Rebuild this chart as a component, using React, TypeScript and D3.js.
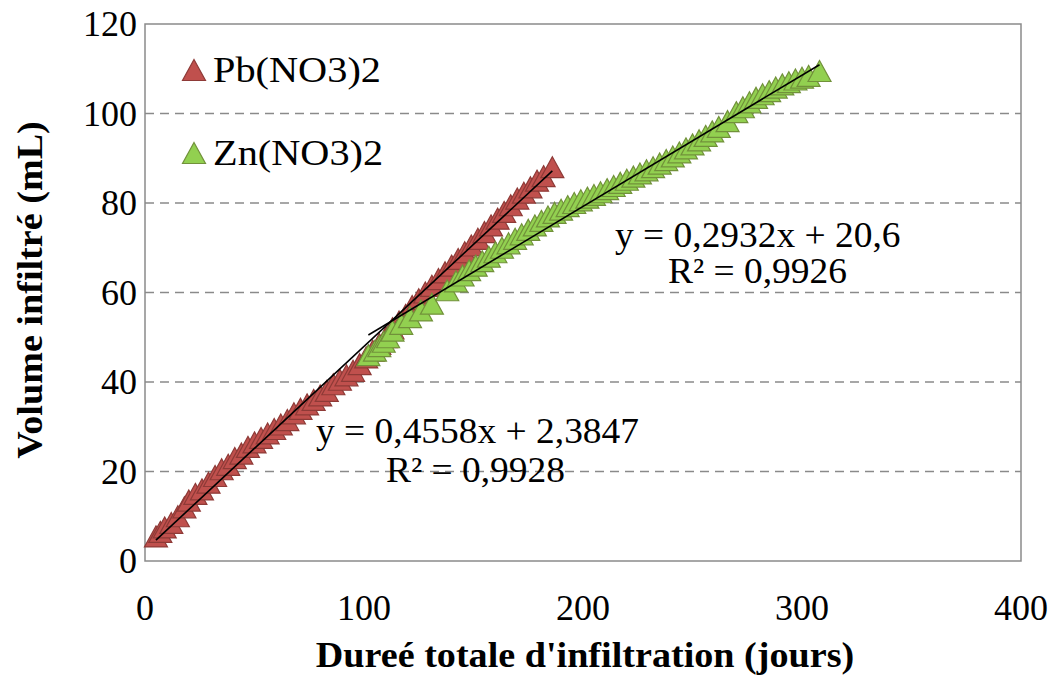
import React from "react";
import * as d3 from "d3";

const xTicks = [0, 100, 200, 300, 400];
const yTicks = [0, 20, 40, 60, 80, 100, 120];

const pbX = [5, 7, 9, 12, 15, 18, 20, 23, 26, 29, 32, 35, 38, 41, 44, 47, 50, 53, 56, 59, 62, 65, 68, 71, 74, 77, 80, 83, 86, 89, 92, 95, 98, 101, 104, 107, 110, 113, 116, 119, 122, 125, 128, 131, 134, 137, 140, 143, 146, 149, 152, 155, 158, 161, 164, 167, 170, 173, 176, 179, 182, 186];
const pbY = [5.5, 6.5, 7.5, 8.5, 10, 12, 13.5, 15, 16, 17.5, 19, 20.5, 21.5, 23, 24, 25.5, 26.5, 27.5, 28.5, 29.5, 30.5, 31.5, 33, 34, 35, 36, 37, 38, 39.5, 40.5, 41.5, 42.5, 44, 45.5, 47, 48.5, 50, 52, 53.5, 55, 57, 58.5, 60, 61.5, 63, 64.5, 66, 67.5, 69, 70.5, 72, 73.5, 75, 76.5, 78, 79.5, 81, 82.3, 83.5, 85, 86, 88];

const znX = [102, 105, 107, 109, 111, 113, 117, 121, 126, 131, 138, 142, 145, 148, 151, 154, 157, 160, 163, 166, 169, 172, 175, 178, 181, 184, 187, 190, 193, 196, 199, 202, 205, 208, 211, 214, 217, 220, 223, 226, 229, 232, 235, 238, 241, 244, 247, 250, 253, 256, 259, 262, 266, 270, 273, 276, 279, 282, 285, 288, 291, 294, 297, 300, 303, 308];
const znY = [46, 47, 48, 49, 50, 51.5, 53, 54.5, 56, 57.5, 60.5, 62.5, 63.8, 65, 66, 67, 68, 69, 70, 71, 72, 73, 74, 75, 76, 77, 77.8, 78.5, 79.3, 80, 80.6, 81.2, 81.8, 82.4, 83.1, 83.8, 84.5, 85.2, 85.9, 86.6, 87.3, 88, 88.8, 89.6, 90.4, 91.3, 92.2, 93.1, 94, 95, 96, 97, 98.3, 100.3, 101.4, 102.5, 103.5, 104.3, 105, 105.8, 106.5, 107, 107.6, 108, 108.4, 109.5];

const series = [
  { name: "Pb(NO3)2", xs: pbX, ys: pbY, slope: 0.4558, intercept: 2.3847, eq: "y = 0,4558x + 2,3847", r2: "R² = 0,9928", fill: "#C0504D", stroke: "#8E3A37" },
  { name: "Zn(NO3)2", xs: znX, ys: znY, slope: 0.2932, intercept: 20.6, eq: "y = 0,2932x + 20,6", r2: "R² = 0,9926", fill: "#92D050", stroke: "#71913A" },
];

const W = 1051, H = 675;
const L = 145, R = 1021, T = 24, B = 561;
const FONT = "'Liberation Serif', 'Times New Roman', serif";

function tri(cx: number, cy: number, w = 23, h = 21) {
  return `M${cx},${cy - h / 2}L${cx + w / 2},${cy + h / 2}L${cx - w / 2},${cy + h / 2}Z`;
}

function SText(props: { x: number; y: number; sx: number; size: number; anchor?: string; bold?: boolean; rotate?: number; dy?: string; children: React.ReactNode }) {
  const { x, y, sx, size, anchor = "start", bold, rotate = 0, dy, children } = props;
  return (
    <text
      transform={`translate(${x},${y}) rotate(${rotate}) scale(${sx},1)`}
      textAnchor={anchor}
      fontSize={size}
      fontWeight={bold ? "bold" : "normal"}
      dy={dy}
    >
      {children}
    </text>
  );
}

export default function App() {
  const x = d3.scaleLinear().domain([0, 400]).range([L, R]);
  const y = d3.scaleLinear().domain([0, 120]).range([B, T]);

  const eqPos = [
    { ex: 316, ey: 443, rx: 386, ry: 482 },
    { ex: 615, ey: 247, rx: 668, ry: 283 },
  ];
  const legendPos = [
    { tx: 194, ty: 70, lx: 213, ly: 82 },
    { tx: 194, ty: 153, lx: 213, ly: 165 },
  ];

  return (
    <svg width={W} height={H} style={{ position: "absolute", left: 0, top: 0, background: "#fff" }} fontFamily={FONT}>
      <rect x={0} y={0} width={W} height={H} fill="#fff" />
      {yTicks.filter((t) => t > 0 && t < 120).map((t) => (
        <line key={t} x1={L} x2={R} y1={y(t)} y2={y(t)} stroke="#8a8a8a" strokeWidth={1.5} strokeDasharray="9,6" />
      ))}
      <rect x={L} y={T} width={R - L} height={B - T} fill="none" stroke="#8a8a8a" strokeWidth={1.5} />

      {series.map((s) => (
        <g key={s.name}>
          {s.xs.map((xv, i) => (
            <path key={i} d={tri(x(xv), y(s.ys[i]))} fill={s.fill} stroke={s.stroke} strokeWidth={1.2} />
          ))}
        </g>
      ))}
      {series.map((s) => {
        const [x0, x1] = d3.extent(s.xs) as [number, number];
        return (
          <line key={s.name + "t"} x1={x(x0)} y1={y(s.slope * x0 + s.intercept)} x2={x(x1)} y2={y(s.slope * x1 + s.intercept)} stroke="#000" strokeWidth={1.6} />
        );
      })}

      {yTicks.map((t) => (
        <SText key={t} x={137} y={y(t)} dy="0.35em" anchor="end" size={35} sx={1.03}>{t}</SText>
      ))}
      {xTicks.map((t) => (
        <SText key={t} x={x(t)} y={620} anchor="middle" size={35} sx={1.03}>{t}</SText>
      ))}
      <SText x={585} y={667} anchor="middle" size={36} sx={1.06} bold>Dureé totale d'infiltration (jours)</SText>
      <SText x={42} y={290} rotate={-90} anchor="middle" size={36} sx={1.06} bold>Volume infiltré (mL)</SText>

      {series.map((s, i) => (
        <g key={s.name + "l"}>
          <path d={tri(legendPos[i].tx, legendPos[i].ty)} fill={s.fill} stroke={s.stroke} strokeWidth={1.2} />
          <SText x={legendPos[i].lx} y={legendPos[i].ly} size={36} sx={1.12}>{s.name}</SText>
        </g>
      ))}

      {series.map((s, i) => (
        <g key={s.name + "e"}>
          <SText x={eqPos[i].ex} y={eqPos[i].ey} size={35} sx={1.07}>{s.eq}</SText>
          <SText x={eqPos[i].rx} y={eqPos[i].ry} size={35} sx={1.07}>{s.r2}</SText>
        </g>
      ))}
    </svg>
  );
}
